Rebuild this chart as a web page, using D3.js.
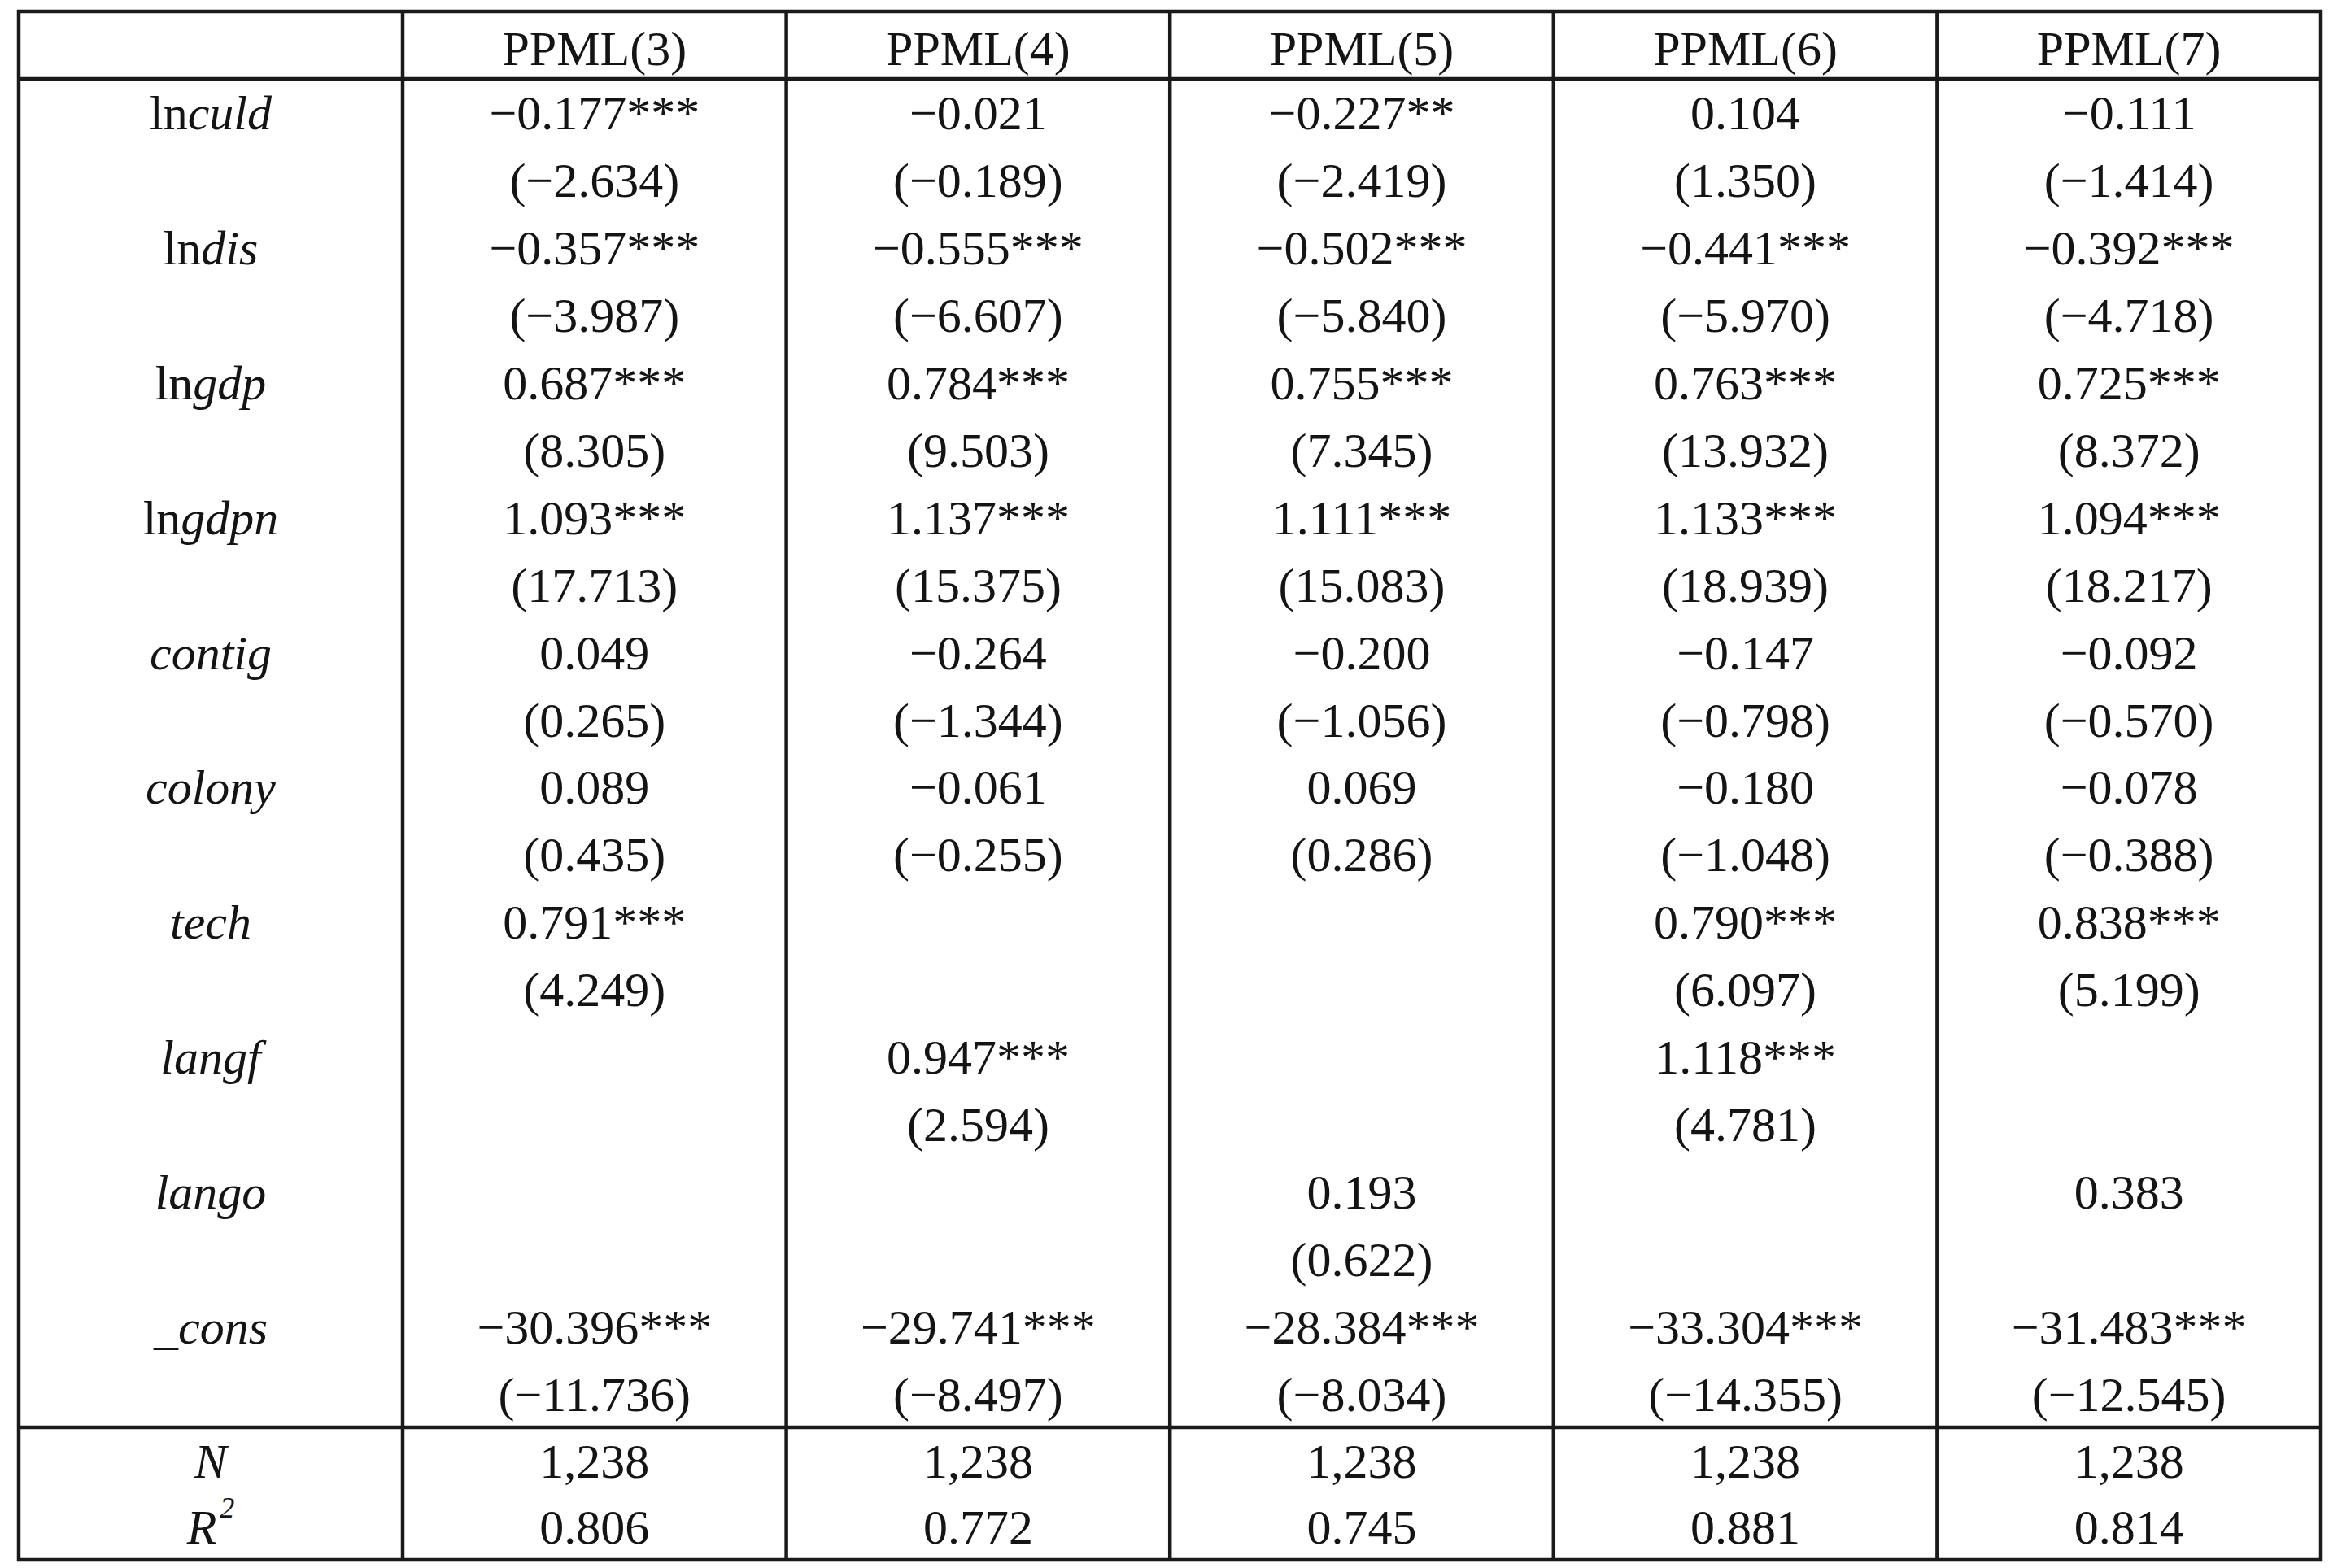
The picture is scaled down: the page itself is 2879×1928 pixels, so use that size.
<!DOCTYPE html>
<html lang="en">
<head>
<meta charset="UTF-8">
<title>PPML regression table</title>
<script src="https://d3js.org/d3.v7.min.js"></script>
<style>
  * { margin: 0; padding: 0; box-sizing: border-box; }
  body { background: #fff; overflow: hidden; }
  svg { display: block; }
  text { font-family: 'Liberation Serif', 'DejaVu Serif', serif; fill: #141414; }
  .rule { stroke: #1a1a1a; stroke-width: 4.5; fill: none; }
</style>
</head>
<body>
<svg id="chart" width="2879" height="1928"></svg>
<script>
// Column headers
const models = ["PPML(3)", "PPML(4)", "PPML(5)", "PPML(6)", "PPML(7)"];

// Row labels: roman prefix + italic part
const varPrefix = ["ln", "ln", "ln", "ln", "", "", "", "", "", "_"];
const varItalic = ["culd", "dis", "gdp", "gdpn", "contig", "colony", "tech", "langf", "lango", "cons"];

// Coefficients, one array per variable (null = not in model)
const lnculd = [-0.177, -0.021, -0.227, 0.104, -0.111];
const lndis  = [-0.357, -0.555, -0.502, -0.441, -0.392];
const lngdp  = [0.687, 0.784, 0.755, 0.763, 0.725];
const lngdpn = [1.093, 1.137, 1.111, 1.133, 1.094];
const contig = [0.049, -0.264, -0.200, -0.147, -0.092];
const colony = [0.089, -0.061, 0.069, -0.180, -0.078];
const tech   = [0.791, null, null, 0.790, 0.838];
const langf  = [null, 0.947, null, 1.118, null];
const lango  = [null, null, 0.193, null, 0.383];
const cons   = [-30.396, -29.741, -28.384, -33.304, -31.483];

// t statistics (in parentheses)
const t_lnculd = [-2.634, -0.189, -2.419, 1.350, -1.414];
const t_lndis  = [-3.987, -6.607, -5.840, -5.970, -4.718];
const t_lngdp  = [8.305, 9.503, 7.345, 13.932, 8.372];
const t_lngdpn = [17.713, 15.375, 15.083, 18.939, 18.217];
const t_contig = [0.265, -1.344, -1.056, -0.798, -0.570];
const t_colony = [0.435, -0.255, 0.286, -1.048, -0.388];
const t_tech   = [4.249, null, null, 6.097, 5.199];
const t_langf  = [null, 2.594, null, 4.781, null];
const t_lango  = [null, null, 0.622, null, null];
const t_cons   = [-11.736, -8.497, -8.034, -14.355, -12.545];

// significance stars
const s_lnculd = [3, 0, 2, 0, 0];
const s_lndis  = [3, 3, 3, 3, 3];
const s_lngdp  = [3, 3, 3, 3, 3];
const s_lngdpn = [3, 3, 3, 3, 3];
const s_contig = [0, 0, 0, 0, 0];
const s_colony = [0, 0, 0, 0, 0];
const s_tech   = [3, 0, 0, 3, 3];
const s_langf  = [0, 3, 0, 3, 0];
const s_lango  = [0, 0, 0, 0, 0];
const s_cons   = [3, 3, 3, 3, 3];

// Bottom statistics
const obsN = [1238, 1238, 1238, 1238, 1238];
const r2   = [0.806, 0.772, 0.745, 0.881, 0.814];

const coefs = [lnculd, lndis, lngdp, lngdpn, contig, colony, tech, langf, lango, cons];
const tstats = [t_lnculd, t_lndis, t_lngdp, t_lngdpn, t_contig, t_colony, t_tech, t_langf, t_lango, t_cons];
const stars = [s_lnculd, s_lndis, s_lngdp, s_lngdpn, s_contig, s_colony, s_tech, s_langf, s_lango, s_cons];

// Geometry
const boxLeft = 23, boxRight = 2853, boxTop = 14, headBottom = 97, bodyBottom = 1755, boxBottom = 1918;
const labelRight = 495;
const fontSize = 60;

const svg = d3.select('#chart');

const x = d3.scaleBand().domain(models).range([labelRight, boxRight]);
const lines = d3.range(varItalic.length * 2);
const y = d3.scaleBand().domain(lines).range([headBottom, bodyBottom]);
const yStat = d3.scaleBand().domain(["N", "R2"]).range([bodyBottom, boxBottom]);

const f3 = d3.format(".3f");
const fN = d3.format(",");

// Rules
const g = svg.append('g');
g.append('rect').attr('class', 'rule')
  .attr('x', boxLeft).attr('y', boxTop).attr('width', boxRight - boxLeft).attr('height', boxBottom - boxTop);
g.append('line').attr('class', 'rule').attr('x1', boxLeft).attr('x2', boxRight).attr('y1', headBottom).attr('y2', headBottom);
g.append('line').attr('class', 'rule').attr('x1', boxLeft).attr('x2', boxRight).attr('y1', bodyBottom).attr('y2', bodyBottom);
g.selectAll('.vsep').data(models).enter().append('line')
  .attr('class', 'rule vsep')
  .attr('x1', d => x(d)).attr('x2', d => x(d))
  .attr('y1', boxTop).attr('y2', boxBottom);

const labelX = (boxLeft + labelRight) / 2;
const txt = svg.append('g').attr('font-size', fontSize).attr('text-anchor', 'middle');

// Header
txt.selectAll('.head').data(models).enter().append('text')
  .attr('x', d => x(d) + x.bandwidth() / 2)
  .attr('y', (boxTop + headBottom) / 2 + 3)
  .attr('dy', '0.35em')
  .text(d => d);

// Row labels
varItalic.forEach((name, i) => {
  const t = txt.append('text')
    .attr('x', labelX)
    .attr('y', y(i * 2) + y.bandwidth() / 2)
    .attr('dy', '0.35em');
  if (varPrefix[i]) t.append('tspan').text(varPrefix[i]);
  t.append('tspan').attr('font-style', 'italic').text(name);
});

// Coefficients and t stats
coefs.forEach((row, i) => {
  row.forEach((v, j) => {
    if (v == null) return;
    txt.append('text')
      .attr('x', x(models[j]) + x.bandwidth() / 2)
      .attr('y', y(i * 2) + y.bandwidth() / 2)
      .attr('dy', '0.35em')
      .text(f3(v) + '*'.repeat(stars[i][j]));
  });
  tstats[i].forEach((v, j) => {
    if (v == null) return;
    txt.append('text')
      .attr('x', x(models[j]) + x.bandwidth() / 2)
      .attr('y', y(i * 2 + 1) + y.bandwidth() / 2)
      .attr('dy', '0.35em')
      .text('(' + f3(v) + ')');
  });
});

// N and R2 rows
txt.append('text').attr('x', labelX).attr('y', yStat('N') + yStat.bandwidth() / 2).attr('dy', '0.35em')
  .attr('font-style', 'italic').text('N');
const r2lab = txt.append('text').attr('x', labelX).attr('y', yStat('R2') + yStat.bandwidth() / 2).attr('dy', '0.35em')
  .attr('font-style', 'italic');
r2lab.append('tspan').text('R');
r2lab.append('tspan').attr('font-size', fontSize * 0.6).attr('dy', '-0.9em').attr('dx', '0.1em').text('2');

obsN.forEach((v, j) => {
  txt.append('text')
    .attr('x', x(models[j]) + x.bandwidth() / 2)
    .attr('y', yStat('N') + yStat.bandwidth() / 2)
    .attr('dy', '0.35em')
    .text(fN(v));
});
r2.forEach((v, j) => {
  txt.append('text')
    .attr('x', x(models[j]) + x.bandwidth() / 2)
    .attr('y', yStat('R2') + yStat.bandwidth() / 2)
    .attr('dy', '0.35em')
    .text(f3(v));
});
</script>
</body>
</html>
